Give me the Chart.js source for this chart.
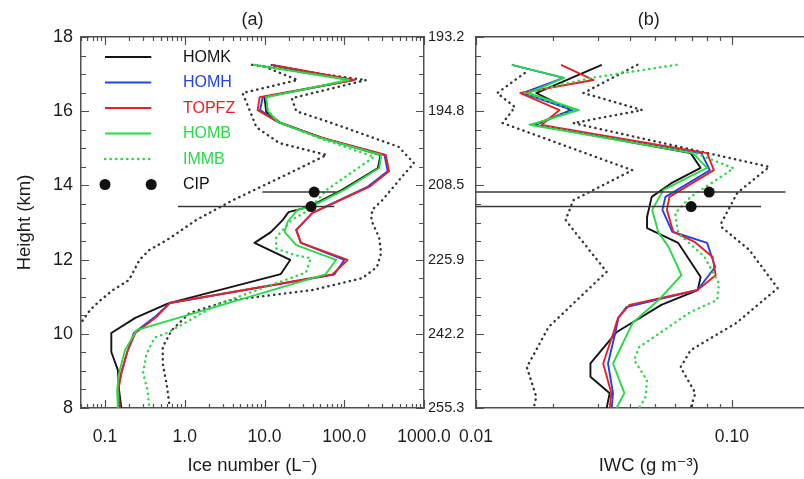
<!DOCTYPE html>
<html><head><meta charset="utf-8">
<script src="https://cdn.jsdelivr.net/npm/chart.js@4.4.1/dist/chart.umd.min.js"></script>
<style>
html,body{margin:0;padding:0;width:804px;height:479px;overflow:hidden;background:#fff}
#c1{position:absolute;left:0;top:0}
#c2{position:absolute;left:440px;top:0}
</style></head><body>
<canvas id="c1" width="480" height="479"></canvas>
<canvas id="c2" width="387" height="479"></canvas>
<script>
// ---------------- tick labels ----------------
const heightTicks = [8, 10, 12, 14, 16, 18];
const tempLabels = ['255.3', '242.2', '225.9', '208.5', '194.8', '193.2'];
const iceTicks = [0.1, 1, 10, 100, 1000];
const iceTickLabels = ['0.1', '1.0', '10.0', '100.0', '1000.0'];
const iwcTicks = [0.01, 0.1];
const iwcTickLabels = ['0.01', '0.10'];
const seriesNames = ['HOMK', 'HOMH', 'TOPFZ', 'HOMB', 'IMMB', 'CIP'];

// ---------------- panel (a): ice number (L-1) vs height (km) ----------------
const hA_HOMK = [17.25,16.84,16.38,15.98,15.7,15.28,14.82,14.47,13.88,13.42,13.28,13.07,12.74,12.45,11.99,11.61,10.82,10.43,10.02,9.51,9.02,8.49,8.0];
const nA_HOMK = [12,125,10,10.5,15.5,53,285,265,94,36,20,17,12,7.5,21,16,0.62,0.24,0.12,0.12,0.145,0.15,0.16];
const hA_HOMH = [17.25,16.84,16.38,16.03,15.7,15.28,14.82,14.38,13.96,13.26,12.8,12.45,11.99,11.6,10.83,10.45,10.02,9.51,8.94,8.49,8.0];
const nA_HOMH = [12,130,9.5,8.8,15,52,320,350,195,40,25,28.5,100,75,0.65,0.42,0.23,0.19,0.16,0.145,0.15];
const hA_TOPFZ = [17.25,16.84,16.38,16.03,15.7,15.28,14.82,14.38,13.96,13.26,12.8,12.45,11.99,11.6,10.83,10.45,10.02,9.51,8.94,8.49,8.0];
const nA_TOPFZ = [12.5,135,8.7,8.2,15,53,331,365,205,40,25,28.7,110,71,0.65,0.44,0.24,0.19,0.16,0.147,0.154];
const hA_HOMB = [17.25,16.84,16.38,16.0,15.7,15.28,14.82,14.47,13.88,13.42,13.34,13.02,12.75,12.39,11.99,11.6,10.1,9.56,8.94,8.49,8.0];
const nA_HOMB = [7.5,115,10.5,11,15,50,290,275,100,38,26,19.5,17.8,25,79,58,0.25,0.178,0.15,0.142,0.145];
const hA_IMMB = [17.25,16.84,16.38,16.0,15.7,15.28,14.77,13.88,13.34,13.07,12.6,12.3,12.12,12.04,11.65,10.8,10.02,9.9,9.45,8.94,8.5,8.0];
const nA_IMMB = [7.5,115,10.5,11,15,48,237,60,36,22,14,14,24,38,33,2.6,0.6,0.42,0.33,0.3,0.34,0.36];
const hA_UP = [17.25,16.84,16.35,16.0,15.68,15.04,14.6,14.15,13.6,13.34,13.07,12.6,12.18,11.8,11.5,11.18,10.9,10.56,10.1,9.65,9.2,8.57,8.0];
const nA_UP = [7,188,22,25,70,480,750,490,300,224,218,273,290,257,168,40,3.6,1.15,0.69,0.53,0.53,0.6,0.65];
const hA_LO = [17.2,16.84,16.49,16.03,15.57,15.14,14.82,14.33,13.6,13.07,12.53,12.26,11.99,11.45,11.18,10.9,10.64,10.37,10.0];
const nA_LO = [10,26,5.3,6.5,7.9,15.4,60,20.5,4,1.4,0.6,0.36,0.27,0.2,0.126,0.087,0.065,0.053,0.04];

// ---------------- panel (b): IWC (g m-3) vs height (km) ----------------
const hB_HOMK = [17.25,16.49,16.03,15.63,14.87,14.47,14.06,13.69,13.15,12.85,12.45,11.53,11.18,10.78,10.05,9.2,8.84,8.4,8.0];
const wB_HOMK = [0.031,0.0172,0.0235,0.017,0.069,0.0755,0.058,0.0486,0.0466,0.0466,0.0617,0.0755,0.0735,0.053,0.0355,0.028,0.028,0.0333,0.0324];
const hB_HOMH = [17.25,16.9,16.49,16.03,15.63,14.87,14.41,13.69,13.34,12.75,12.45,11.8,11.18,10.72,10.43,10.02,9.2,8.4,8.0];
const wB_HOMH = [0.0138,0.022,0.0152,0.0238,0.0168,0.076,0.082,0.055,0.0535,0.0585,0.080,0.086,0.0734,0.0387,0.036,0.035,0.0328,0.0343,0.0339];
const hB_TOPFZ = [17.25,16.84,16.49,16.03,15.63,14.87,14.41,13.69,13.34,12.75,12.48,12.07,11.58,11.18,10.78,10.43,10.02,9.2,8.4,8.0];
const wB_TOPFZ = [0.0215,0.0288,0.0149,0.0212,0.018,0.080,0.085,0.057,0.0557,0.059,0.0714,0.084,0.0864,0.0734,0.0398,0.0359,0.0344,0.0314,0.0338,0.0333];
const hB_HOMB = [17.25,16.9,16.49,16.03,15.63,14.87,14.47,13.88,13.34,12.72,12.35,11.58,10.91,10.29,9.2,8.4,8.0];
const wB_HOMB = [0.0138,0.0221,0.016,0.0252,0.0162,0.0703,0.080,0.054,0.0488,0.0517,0.0565,0.0635,0.0517,0.0409,0.0343,0.038,0.0354];
const hB_IMMB = [17.25,16.9,16.49,16.03,15.63,14.87,14.46,13.69,13.25,12.71,12.08,11.36,10.91,10.59,9.64,9.29,8.75,8.3,8.0];
const wB_IMMB = [0.0608,0.0284,0.0155,0.0245,0.0168,0.072,0.1015,0.069,0.06,0.0617,0.078,0.089,0.0877,0.069,0.0434,0.0415,0.0466,0.046,0.0434];
const hB_UP = [17.25,16.49,16.03,15.68,14.5,13.8,12.99,12.88,12.26,11.23,10.29,9.56,9.1,8.4,8.0];
const wB_UP = [0.0427,0.0263,0.0446,0.024,0.14,0.105,0.091,0.091,0.117,0.151,0.104,0.069,0.063,0.072,0.069];
const hB_LO = [17.03,16.49,16.11,15.68,14.41,13.6,13.07,12.88,11.67,11.0,10.18,9.1,8.3,8.0];
const wB_LO = [0.0155,0.0121,0.0142,0.0127,0.0408,0.024,0.0224,0.0235,0.0324,0.0256,0.0192,0.0158,0.0172,0.0168];

// ---------------- CIP observations ----------------
const cipH = [13.82, 13.43];
const cipN = [42, 38.3];
const cipNlo = [9.4, 0.82];
const cipNhi = [80, 75];
const cipW = [0.0815, 0.0693];
const cipWlo = [0.005, 0.005];
const cipWhi = [0.162, 0.130];

// ---------------- styles ----------------
const FF = '"Liberation Sans", Arial, "DejaVu Sans", sans-serif';
const TXT = '#1e1e1e';
const AX = '#505050';
const COL = {HOMK:'#141414', HOMH:'#2442e6', TOPFZ:'#e42228', HOMB:'#2bd848', IMMB:'#2bd848', CIP:'#111111', BND:'#333333'};
const LOG_MANT = [2,3,4,5,6,7,8,9];
const DECADES_A = [0.01, 0.1, 1, 10, 100];
const DECADES_B = [0.001, 0.01, 0.1];
const minorOf = decs => decs.flatMap(d => LOG_MANT.map(m => +(m*d).toPrecision(3)));
const yMajor = heightTicks;
const yMinor = [8.5,9,9.5,10.5,11,11.5,12.5,13,13.5,14.5,15,15.5,16.5,17,17.5];

const pts = (hs, vs) => hs.map((h, i) => ({x: vs[i], y: h}));
function ln(label, hs, vs, color, dotted, order) {
  return {label, data: pts(hs, vs), showLine: true, borderColor: color,
    borderWidth: dotted ? 2.4 : 1.9, borderDash: dotted ? [0.3, 5.2] : [],
    borderCapStyle: dotted ? 'round' : 'butt', borderJoinStyle: 'round',
    pointRadius: 0, order, clip: 0, tension: 0};
}
function bar(lo, hi, h) {
  return {label: 'CIP range', data: [{x: lo, y: h}, {x: hi, y: h}], showLine: true,
    borderColor: '#3a3a3a', borderWidth: 1.5, pointRadius: 0, order: 0.5, clip: 0};
}
function dots(xs) {
  return {label: 'CIP', data: pts(cipH, xs), showLine: false, pointRadius: 5.5,
    pointBackgroundColor: COL.CIP, pointBorderWidth: 0, order: 0, clip: 0};
}

function tickPlugin(cfg) {
  return {
    id: 'inTicks',
    afterDraw(chart) {
      const {ctx, chartArea: a} = chart;
      const sx = chart.scales.x, sy = chart.scales.y;
      ctx.save(); ctx.strokeStyle = AX; ctx.lineWidth = 1.2; ctx.beginPath();
      const hx = (v, len) => {
        const p = Math.round(sx.getPixelForValue(v)) + 0.5;
        if (p < a.left - 0.5 || p > a.right + 0.5) return;
        ctx.moveTo(p, a.bottom); ctx.lineTo(p, a.bottom - len);
        ctx.moveTo(p, a.top); ctx.lineTo(p, a.top + len);
      };
      cfg.xMajor.forEach(v => hx(v, 8)); cfg.xMinor.forEach(v => hx(v, 4));
      const vy = (v, len) => {
        const p = Math.round(sy.getPixelForValue(v)) + 0.5;
        ctx.moveTo(a.left, p); ctx.lineTo(a.left + len, p);
        if (cfg.right) { ctx.moveTo(a.right, p); ctx.lineTo(a.right - len, p); }
      };
      yMajor.forEach(v => vy(v, 8)); yMinor.forEach(v => vy(v, 5));
      ctx.stroke(); ctx.restore();
    }
  };
}

const legendPlugin = {
  id: 'ownLegend',
  afterDraw(chart) {
    const ctx = chart.ctx;
    const x0 = chart.scales.x.getPixelForValue(0.1), x1 = chart.scales.x.getPixelForValue(0.38);
    const ys = [57, 82.5, 108, 133.5, 159, 184.5];
    const colors = [COL.HOMK, COL.HOMH, COL.TOPFZ, COL.HOMB, COL.IMMB, COL.CIP];
    ctx.save();
    ctx.font = '16px ' + FF; ctx.textBaseline = 'middle'; ctx.textAlign = 'left';
    seriesNames.forEach((name, i) => {
      const y = ys[i];
      ctx.strokeStyle = colors[i];
      if (name === 'CIP') {
        ctx.fillStyle = colors[i];
        [x0, x1].forEach(x => { ctx.beginPath(); ctx.arc(x, y, 5.5, 0, Math.PI * 2); ctx.fill(); });
      } else {
        ctx.beginPath();
        if (name === 'IMMB') { ctx.setLineDash([0.3, 5.2]); ctx.lineCap = 'round'; ctx.lineWidth = 2.4; }
        else { ctx.setLineDash([]); ctx.lineCap = 'butt'; ctx.lineWidth = 1.9; }
        ctx.moveTo(x0, y); ctx.lineTo(x1, y); ctx.stroke();
      }
      ctx.fillStyle = colors[i];
      ctx.fillText(name, 183, y + 0.5);
    });
    ctx.restore();
  }
};

const gridOpts = {display: true, drawOnChartArea: false, drawTicks: false};
const borderOpts = {display: true, color: AX, width: 1.5};
const fixH = h => s => { s.height = h; };
const fixW = w => s => { s.width = w; };
const setTicks = arr => s => { s.ticks = arr.map(v => ({value: v})); };

// ---------------- chart (a) ----------------
new Chart(document.getElementById('c1'), {
  type: 'scatter',
  data: {datasets: [
    ln('upper', hA_UP, nA_UP, COL.BND, true, 6),
    ln('lower', hA_LO, nA_LO, COL.BND, true, 6),
    ln('HOMK', hA_HOMK, nA_HOMK, COL.HOMK, false, 5),
    ln('HOMH', hA_HOMH, nA_HOMH, COL.HOMH, false, 4),
    ln('TOPFZ', hA_TOPFZ, nA_TOPFZ, COL.TOPFZ, false, 3),
    ln('HOMB', hA_HOMB, nA_HOMB, COL.HOMB, false, 2),
    ln('IMMB', hA_IMMB, nA_IMMB, COL.IMMB, true, 1),
    bar(cipNlo[0], cipNhi[0], cipH[0]),
    bar(cipNlo[1], cipNhi[1], cipH[1]),
    dots(cipN)
  ]},
  options: {
    responsive: false, animation: false, devicePixelRatio: 1, events: [],
    layout: {padding: 0},
    plugins: {legend: {display: false}, tooltip: {enabled: false}},
    scales: {
      x: {type: 'logarithmic', position: 'bottom', min: 0.05, max: 1000,
        afterBuildTicks: setTicks(iceTicks), afterFit: fixH(71),
        ticks: {autoSkip: false, maxRotation: 0, padding: 19, color: TXT, font: {family: FF, size: 17.5},
          callback: (v, i) => iceTickLabels[i]},
        grid: gridOpts, border: borderOpts,
        title: {display: true, text: 'Ice number (L\u207B)', color: TXT, font: {family: FF, size: 18.5}, padding: {top: 0, bottom: 2}}},
      x2: {type: 'logarithmic', position: 'top', min: 0.05, max: 1000, afterFit: fixH(37),
        ticks: {display: false}, grid: gridOpts, border: borderOpts,
        title: {display: true, text: '(a)', color: TXT, font: {family: FF, size: 18}, padding: {top: 9, bottom: 0}}},
      y: {type: 'linear', position: 'left', min: 8, max: 18,
        afterBuildTicks: setTicks(heightTicks), afterFit: fixW(81),
        ticks: {padding: 8, color: TXT, font: {family: FF, size: 18}, callback: (v, i) => String(heightTicks[i])},
        grid: gridOpts, border: borderOpts,
        title: {display: true, text: 'Height (km)', color: TXT, font: {family: FF, size: 18.5}, padding: {top: 14, bottom: 0}}},
      y2: {type: 'linear', position: 'right', min: 8, max: 18,
        afterBuildTicks: setTicks(heightTicks), afterFit: fixW(56),
        ticks: {padding: 4, color: TXT, font: {family: FF, size: 14.5}, callback: (v, i) => tempLabels[i]},
        grid: gridOpts, border: borderOpts}
    }
  },
  plugins: [tickPlugin({xMajor: iceTicks, xMinor: minorOf(DECADES_A), right: true}), legendPlugin]
});

// ---------------- chart (b) ----------------
new Chart(document.getElementById('c2'), {
  type: 'scatter',
  data: {datasets: [
    ln('upper', hB_UP, wB_UP, COL.BND, true, 6),
    ln('lower', hB_LO, wB_LO, COL.BND, true, 6),
    ln('HOMK', hB_HOMK, wB_HOMK, COL.HOMK, false, 5),
    ln('HOMH', hB_HOMH, wB_HOMH, COL.HOMH, false, 4),
    ln('TOPFZ', hB_TOPFZ, wB_TOPFZ, COL.TOPFZ, false, 3),
    ln('HOMB', hB_HOMB, wB_HOMB, COL.HOMB, false, 2),
    ln('IMMB', hB_IMMB, wB_IMMB, COL.IMMB, true, 1),
    bar(cipWlo[0], cipWhi[0], cipH[0]),
    bar(cipWlo[1], cipWhi[1], cipH[1]),
    dots(cipW)
  ]},
  options: {
    responsive: false, animation: false, devicePixelRatio: 1, events: [],
    layout: {padding: 0},
    plugins: {legend: {display: false}, tooltip: {enabled: false}},
    scales: {
      x: {type: 'logarithmic', position: 'bottom', min: 0.01, max: 0.224,
        afterBuildTicks: setTicks(iwcTicks), afterFit: fixH(71),
        ticks: {autoSkip: false, maxRotation: 0, padding: 19, color: TXT, font: {family: FF, size: 17.5},
          callback: (v, i) => iwcTickLabels[i]},
        grid: gridOpts, border: borderOpts,
        title: {display: true, text: 'IWC (g m\u207B\u00B3)', color: TXT, font: {family: FF, size: 18.5}, padding: {top: 0, bottom: 2}}},
      x2: {type: 'logarithmic', position: 'top', min: 0.01, max: 0.224, afterFit: fixH(37),
        ticks: {display: false}, grid: gridOpts, border: borderOpts,
        title: {display: true, text: '(b)', color: TXT, font: {family: FF, size: 18}, padding: {top: 9, bottom: 0}}},
      y: {type: 'linear', position: 'left', min: 8, max: 18,
        afterBuildTicks: setTicks(heightTicks), afterFit: fixW(33),
        ticks: {display: false}, grid: gridOpts, border: borderOpts}
    }
  },
  plugins: [tickPlugin({xMajor: iwcTicks, xMinor: minorOf(DECADES_B), right: false})]
});
</script>
</body></html>
